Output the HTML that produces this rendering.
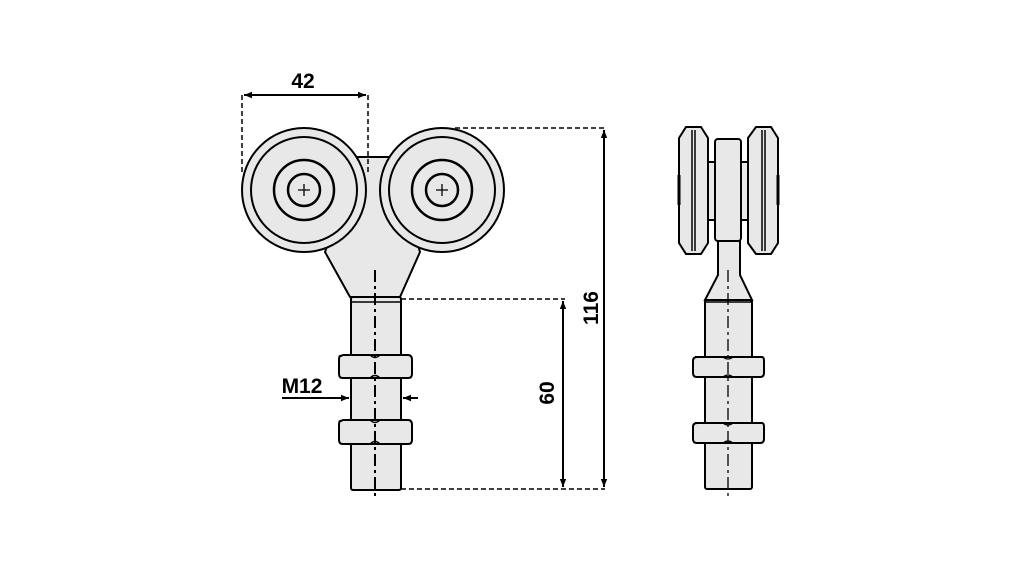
<!DOCTYPE html>
<html><head><style>html,body{margin:0;padding:0;background:#fff}svg{display:block}</style></head>
<body>
<svg width="1021" height="567" viewBox="0 0 1021 567" xmlns="http://www.w3.org/2000/svg">
<defs>
<marker id="a" viewBox="0 0 10 10" refX="10" refY="5" markerWidth="8" markerHeight="8" orient="auto-start-reverse" markerUnits="userSpaceOnUse"><path d="M0,1 L10,5 L0,9 z" fill="#000"/></marker>
</defs>
<g fill="#e8e8e8" stroke="#000" stroke-width="2">
<path d="M358,157 L390,157 L420,252 L400,297 L350,297 L325,252 Z"/>
<circle cx="304" cy="190" r="62"/>
<circle cx="304" cy="190" r="53" fill="none"/>
<circle cx="304" cy="190" r="30" fill="none" stroke-width="2.5"/>
<circle cx="304" cy="190" r="16" fill="none" stroke-width="2.5"/>
<circle cx="442" cy="190" r="62"/>
<circle cx="442" cy="190" r="53" fill="none"/>
<circle cx="442" cy="190" r="30" fill="none" stroke-width="2.5"/>
<circle cx="442" cy="190" r="16" fill="none" stroke-width="2.5"/>
<rect x="351" y="297" width="50" height="193" rx="2"/>
<line x1="351" y1="302" x2="401" y2="302" stroke-width="1.5"/>
<path d="M341,356 Q339,355 339,360 L339,374 Q339,378 343,378 L408,378 Q412,378 412,374 L412,360 Q412,355 408,355 L343,355 Z"/>
<path d="M341,421 Q339,420 339,425 L339,440 Q339,444 343,444 L408,444 Q412,444 412,440 L412,425 Q412,420 408,420 L343,420 Z"/>
</g>
<g stroke="#000" stroke-width="1.3" fill="none">
<path d="M298,190h12M304,184v12M436,190h12M442,184v12"/>
<path d="M370,355 Q375,360 380,355 M370,378 Q375,373 380,378 M370,420 Q375,425 380,420 M370,444 Q375,439 380,444"/>
<path d="M723,357 Q728,361 733,357 M723,377 Q728,373 733,377 M723,423 Q728,427 733,423 M723,443 Q728,439 733,443"/>
</g>
<line x1="375" y1="270" x2="375" y2="498" stroke="#000" stroke-width="2" stroke-dasharray="12,4,3,4"/>
<g stroke="#000" stroke-width="1.5" fill="none" stroke-dasharray="5,3">
<path d="M242,95 V175 M368,95 V175"/>
<path d="M455,128 H605 M401,489 H605 M401,299 H565"/>
</g>
<g stroke="#000" stroke-width="2" fill="none">
<line x1="244" y1="95" x2="366" y2="95" marker-start="url(#a)" marker-end="url(#a)"/>
<line x1="604" y1="130" x2="604" y2="487" marker-start="url(#a)" marker-end="url(#a)"/>
<line x1="563" y1="301" x2="563" y2="487" marker-start="url(#a)" marker-end="url(#a)"/>
<line x1="282" y1="398" x2="349" y2="398" marker-end="url(#a)"/>
<line x1="418" y1="398" x2="403" y2="398" marker-end="url(#a)"/>
</g>
<g font-family="Liberation Sans, sans-serif" font-weight="bold" font-size="21" fill="#000">
<text x="303" y="88" text-anchor="middle">42</text>
<text x="302" y="393" text-anchor="middle">M12</text>
<text transform="translate(598,308) rotate(-90)" text-anchor="middle">116</text>
<text transform="translate(554,393) rotate(-90)" text-anchor="middle">60</text>
</g>
<g fill="#e8e8e8" stroke="#000" stroke-width="2">
<rect x="708" y="162" width="40" height="58"/>
<path d="M686,127 L701,127 L708,138 L708,243 L701,254 L686,254 L679,243 L679,138 Z"/>
<path d="M756,127 L771,127 L778,138 L778,243 L771,254 L756,254 L748,243 L748,138 Z"/>
<rect x="715" y="139" width="26" height="102" rx="3"/>
<path d="M718,241 L740,241 L740,275 L752,300 L705,300 L718,275 Z"/>
<rect x="705" y="300" width="47" height="189" rx="2"/>
<path d="M695,357 L762,357 Q764,357 764,361 L764,373 Q764,377 760,377 L697,377 Q693,377 693,373 L693,361 Q693,357 697,357 Z"/>
<path d="M695,423 L762,423 Q764,423 764,427 L764,439 Q764,443 760,443 L697,443 Q693,443 693,439 L693,427 Q693,423 697,423 Z"/>
</g>
<g stroke="#000" stroke-width="1.5" fill="none">
<path d="M692,130V251 M695,130V251 M762,130V251 M765,130V251 M705,302H752"/>
<path d="M679,175V205 M778,175V205" stroke-width="3"/>
<path d="M723,357 Q728,361 733,357 M723,377 Q728,373 733,377 M723,423 Q728,427 733,423 M723,443 Q728,439 733,443" stroke-width="1.2"/>
</g>
<line x1="728" y1="270" x2="728" y2="498" stroke="#000" stroke-width="1.3" stroke-dasharray="12,4,3,4"/>
</svg>
</body></html>
